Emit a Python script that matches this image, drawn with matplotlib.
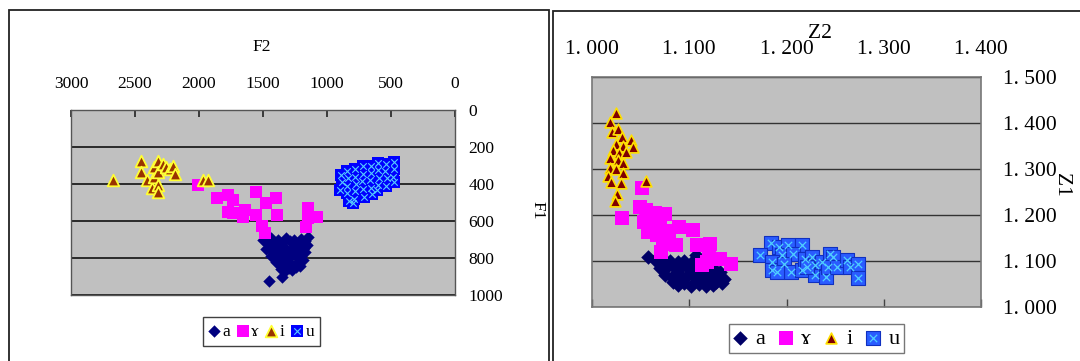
import matplotlib.pyplot as plt
from matplotlib.patches import Rectangle

plt.rcParams['font.family'] = ['Liberation Serif', 'DejaVu Serif']

# ---- left panel: F2 / F1 (Hz) ----
a_f2 = [1500, 1470, 1440, 1410, 1380, 1350, 1320, 1290, 1260, 1230, 1200, 1170, 1150,
        1480, 1450, 1420, 1390, 1360, 1330, 1300, 1270, 1240, 1210, 1180, 1160,
        1440, 1410, 1380, 1350, 1320, 1290, 1260, 1230, 1200, 1170,
        1400, 1370, 1340, 1310, 1280, 1250, 1220, 1190,
        1360, 1330, 1300, 1270, 1240, 1210,
        1450, 1350]
a_f1 = [700, 720, 690, 730, 700, 720, 690, 710, 700, 720, 695, 710, 685,
        750, 740, 770, 750, 760, 745, 770, 750, 740, 755, 745, 730,
        790, 780, 800, 790, 810, 795, 780, 800, 790, 770,
        820, 840, 830, 845, 830, 840, 825, 810,
        860, 870, 855, 865, 850, 845,
        925, 905]

r_f2 = [2005, 1857, 1771, 1732, 1771, 1732, 1641, 1654, 1555, 1555, 1477, 1398,
        1393, 1510, 1484, 1146, 1081, 1146, 1164]
r_f1 = [405, 474, 459, 486, 550, 559, 541, 577, 441, 568, 505, 474,
        568, 627, 667, 532, 577, 586, 631]

i_f2 = [2670, 2457, 2457, 2410, 2371, 2351, 2351, 2324, 2324, 2320, 2320, 2281,
        2255, 2228, 2203, 2189, 1969, 1930]
i_f1 = [381, 273, 336, 377, 420, 363, 309, 273, 336, 408, 444, 291,
        309, 318, 300, 345, 381, 381]

u_f2 = [480, 475, 485, 480, 540, 545, 535, 540, 600, 605, 595, 600, 610,
        660, 655, 665, 660, 650, 720, 715, 725, 720, 710,
        780, 785, 775, 780, 790, 800, 840, 835, 845, 840, 830, 890, 885, 895]
u_f1 = [280, 320, 360, 390, 290, 330, 370, 410, 285, 325, 365, 405, 435,
        300, 340, 380, 420, 455, 305, 345, 385, 425, 470,
        320, 360, 400, 440, 480, 505, 330, 370, 410, 450, 490, 350, 390, 430]

# ---- right panel: Z2 / Z1 ----
a_z2 = [1.065, 1.072, 1.080, 1.088, 1.095, 1.102, 1.110, 1.118, 1.125, 1.132,
        1.070, 1.077, 1.085, 1.092, 1.100, 1.107, 1.115, 1.122, 1.130, 1.136,
        1.075, 1.082, 1.090, 1.097, 1.105, 1.112, 1.120, 1.127, 1.134,
        1.083, 1.088, 1.095, 1.102, 1.110, 1.117, 1.124,
        1.058, 1.107]
a_z1 = [1.103, 1.098, 1.100, 1.097, 1.099, 1.095, 1.092, 1.088, 1.083, 1.076,
        1.085, 1.088, 1.084, 1.086, 1.082, 1.080, 1.075, 1.072, 1.066, 1.060,
        1.070, 1.066, 1.070, 1.066, 1.068, 1.062, 1.058, 1.055, 1.052,
        1.055, 1.048, 1.052, 1.046, 1.050, 1.046, 1.048,
        1.108, 1.114]

r_z2 = [1.051, 1.031, 1.049, 1.056, 1.065, 1.075, 1.053, 1.061, 1.070, 1.079, 1.089, 1.058,
        1.067, 1.104, 1.073, 1.086, 1.071, 1.108, 1.121, 1.120, 1.132, 1.143, 1.113, 1.118]
r_z1 = [1.259, 1.193, 1.217, 1.211, 1.204, 1.202, 1.184, 1.177, 1.182, 1.166, 1.173, 1.163,
        1.156, 1.168, 1.136, 1.134, 1.120, 1.134, 1.138, 1.117, 1.105, 1.093, 1.091, 1.098]

i_z2 = [1.025, 1.018, 1.021, 1.027, 1.031, 1.040, 1.025, 1.032, 1.042, 1.022, 1.028, 1.035,
        1.018, 1.027, 1.032, 1.019, 1.025, 1.032, 1.016, 1.020, 1.030, 1.026, 1.024, 1.056]
i_z1 = [1.422, 1.402, 1.380, 1.387, 1.369, 1.364, 1.355, 1.350, 1.348, 1.341, 1.335, 1.337,
        1.323, 1.319, 1.314, 1.303, 1.301, 1.292, 1.285, 1.272, 1.269, 1.246, 1.231, 1.273]

u_z2 = [1.184, 1.173, 1.192, 1.202, 1.216, 1.195, 1.207, 1.185, 1.185, 1.197, 1.205, 1.216,
        1.219, 1.226, 1.229, 1.229, 1.236, 1.241, 1.245, 1.248, 1.243, 1.252, 1.262, 1.265,
        1.274, 1.274, 1.221, 1.190]
u_z1 = [1.139, 1.112, 1.130, 1.134, 1.134, 1.112, 1.116, 1.098, 1.080, 1.094, 1.076, 1.080,
        1.105, 1.109, 1.091, 1.069, 1.098, 1.066, 1.116, 1.109, 1.087, 1.087, 1.102, 1.087,
        1.094, 1.064, 1.087, 1.076]

labels = ['a', 'ɤ', 'i', 'u']
GRAY = '#C0C0C0'

fig = plt.figure(figsize=(10.8, 3.61), dpi=100)
W, H = 1080, 361


def px_axes(x0, y0, x1, y1):
    return fig.add_axes([x0 / W, 1 - y1 / H, (x1 - x0) / W, (y1 - y0) / H])


# panel frames
fig.patches.append(Rectangle((9 / W, -0.02), 540 / W, 1.02 - 10 / H, transform=fig.transFigure,
                             fill=False, edgecolor='#222222', lw=1.3))
fig.patches.append(Rectangle((553 / W, -0.02), 540 / W, 1.02 - 11 / H, transform=fig.transFigure,
                             fill=False, edgecolor='#222222', lw=1.3))

# ---------- left ----------
ax = px_axes(71, 110, 455, 295)
ax.set_facecolor(GRAY)
ax.set_xlim(3000, 0)
ax.set_ylim(1000, 0)
ax.set_axisbelow(True)
ax.yaxis.grid(True, color='#111111', lw=1.2)
ax.set_xticks([3000, 2500, 2000, 1500, 1000, 500, 0])
ax.set_yticks([0, 200, 400, 600, 800, 1000])
ax.tick_params(axis='x', top=True, bottom=False, labeltop=True, labelbottom=False,
               direction='in', length=5, width=1.2, color='#222222', pad=13, labelsize=12.5)
ax.tick_params(axis='y', left=False, right=False, labelleft=False, labelright=True,
               pad=6, labelsize=12.5)
for s in ax.spines.values():
    s.set_color('#555555')
    s.set_linewidth(1.0)

la = ax.scatter(a_f2, a_f1, marker='D', s=40, color='#000080', lw=0, zorder=3)
lr = ax.scatter(r_f2, r_f1, marker='s', s=68, color='#FF00FF', lw=0, zorder=3)
li = ax.scatter(i_f2, i_f1, marker='^', s=70, facecolor='#993300', edgecolor='#FFFF33', lw=1.3, zorder=4)
lu = ax.scatter(u_f2, u_f1, marker='s', s=80, color='#0000FF', lw=0, zorder=3)
lux = ax.scatter(u_f2, u_f1, marker='x', s=22, color='#55CCFF', lw=0.8, zorder=3)

fig.text(262 / W, 1 - 47 / H, 'F2', ha='center', va='center', fontsize=12.5)
fig.text(537 / W, 1 - 210 / H, 'F1', ha='center', va='center', fontsize=12.5, rotation=270)

leg = fig.legend([la, lr, li, (lu, lux)], labels, loc='center', bbox_to_anchor=(261.5 / W, 1 - 331.5 / H),
                 ncol=4, fontsize=12.5, frameon=True, fancybox=False, edgecolor='#111111',
                 handlelength=0.6, handletextpad=0.2, columnspacing=0.4, borderpad=0.35,
                 borderaxespad=0, scatterpoints=1)
leg.get_frame().set_linewidth(1.0)

# ---------- right ----------
ax2 = px_axes(592, 77, 981, 307)
ax2.set_facecolor(GRAY)
ax2.set_xlim(1.0, 1.4)
ax2.set_ylim(1.0, 1.5)
ax2.set_axisbelow(True)
ax2.yaxis.grid(True, color='#333333', lw=1.0)
xt = [1.0, 1.1, 1.2, 1.3, 1.4]
yt = [1.0, 1.1, 1.2, 1.3, 1.4, 1.5]
ax2.set_xticks(xt)
ax2.set_xticklabels([f'{v:.3f}'.replace('.', '. ') for v in xt])
ax2.set_yticks(yt)
ax2.set_yticklabels([f'{v:.3f}'.replace('.', '. ') for v in yt])
ax2.tick_params(axis='x', top=False, bottom=True, labeltop=True, labelbottom=False,
                direction='in', length=6, width=1.0, color='#444444', pad=13, labelsize=15.5)
ax2.tick_params(axis='y', left=False, right=False, labelleft=False, labelright=True,
                pad=12, labelsize=15.5)
for s in ax2.spines.values():
    s.set_color('#777777')
    s.set_linewidth(1.2)

ra = ax2.scatter(a_z2, a_z1, marker='D', s=55, color='#000066', lw=0, zorder=3)
rr = ax2.scatter(r_z2, r_z1, marker='s', s=95, color='#FF00FF', lw=0, zorder=3)
ri = ax2.scatter(i_z2, i_z1, marker='^', s=60, facecolor='#800000', edgecolor='#FFE000', lw=1.2, zorder=4)
ru = ax2.scatter(u_z2, u_z1, marker='s', s=90, facecolor='#2A5CFF', edgecolor='#1030C0', lw=0.8, zorder=3)
rux = ax2.scatter(u_z2, u_z1, marker='x', s=28, color='#4FD0FF', lw=0.9, zorder=3)

fig.text(820 / W, 1 - 33 / H, 'Z2', ha='center', va='center', fontsize=15.5)
fig.text(1062 / W, 1 - 185 / H, 'Z1', ha='center', va='center', fontsize=15.5, rotation=270)

leg2 = fig.legend([ra, rr, ri, (ru, rux)], labels, loc='center', bbox_to_anchor=(816.5 / W, 1 - 338.7 / H),
                  ncol=4, fontsize=16, frameon=True, fancybox=False, edgecolor='#555555',
                  handlelength=0.6, handletextpad=0.4, columnspacing=0.6, borderpad=0.2,
                  borderaxespad=0, scatterpoints=1)
leg2.get_frame().set_linewidth(1.0)

fig.savefig('out.png', dpi=100)
